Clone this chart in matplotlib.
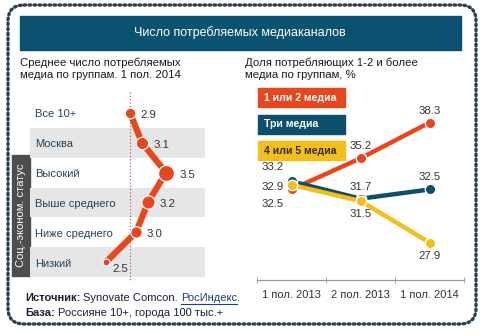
import matplotlib
matplotlib.use("Agg")
import matplotlib.pyplot as plt
from matplotlib.patches import Rectangle, FancyBboxPatch

plt.rcParams['font.family'] = ['Liberation Sans', 'DejaVu Sans']

# --- data ---
TITLE = "Число потребляемых медиаканалов"
left_title = "Среднее число потребляемых\nмедиа по группам. 1 пол. 2014"
groups = ["Все 10+", "Москва", "Высокий", "Выше среднего", "Ниже среднего", "Низкий"]
group_values = [2.9, 3.1, 3.5, 3.2, 3.0, 2.5]
side_label = "Соц.-эконом. статус"

right_title = "Доля потребляющих 1-2 и более\nмедиа по группам, %"
periods = ["1 пол. 2013", "2 пол. 2013", "1 пол. 2014"]
series_names = ["1 или 2 медиа", "Три медиа", "4 или 5 медиа"]
one_two = [32.5, 35.2, 38.3]
three = [33.2, 31.7, 32.5]
four_five = [32.9, 31.5, 27.9]

RED = "#e8461e"
NAVY = "#0b4f6c"
YELLOW = "#f4bf1a"
TXT = "#333333"
CAT = "#23415c"

W, H = 480, 336
fig = plt.figure(figsize=(W / 100, H / 100), dpi=100)
fig.patch.set_facecolor("white")

def fbox(x0, y0, x1, y1):
    # pixel box -> figure fraction
    return [x0 / W, 1 - y1 / H, (x1 - x0) / W, (y1 - y0) / H]

# background layer in pixel coords
bg = fig.add_axes([0, 0, 1, 1])
bg.set_xlim(0, W)
bg.set_ylim(H, 0)
bg.axis("off")

border = FancyBboxPatch((8, 5), 468, 319, boxstyle="round,pad=0,rounding_size=16",
                        fill=False, ec="#2a4252", lw=2.4, ls=(0, (0.5, 1.0)))
border.set_capstyle("round")
bg.add_patch(border)
bg.add_patch(Rectangle((20, 16), 441, 34, color="#0b5270"))
bg.text(240, 33, TITLE, color="white", ha="center", va="center", fontsize=9)

bg.text(20, 69, left_title, color="#1a1a1a", ha="left", va="center", fontsize=8.2, linespacing=1.25)
bg.text(245, 69, right_title, color="#1a1a1a", ha="left", va="center", fontsize=8.2, linespacing=1.25)

bg.add_patch(Rectangle((12, 155), 18, 121, color="#4d4d4d"))
bg.text(21, 215, side_label, color="white", rotation=90, ha="center", va="center", fontsize=8)

# footer
fs = 8
ftc = "#1a1f3a"
r = fig.canvas.get_renderer()
t1 = bg.text(25, 298, "Источник:", fontsize=fs, fontweight="bold", color=ftc, va="center")
w1 = t1.get_window_extent(r).width
t2 = bg.text(25 + w1 + 3, 298, "Synovate Comcon.", fontsize=fs, color=ftc, va="center")
w2 = t2.get_window_extent(r).width
x3 = 25 + w1 + 3 + w2 + 3
t3 = bg.text(x3, 298, "РосИндекс", fontsize=fs, color="#1f3f8f", va="center")
w3 = t3.get_window_extent(r).width
bg.plot([x3, x3 + w3], [304, 304], color="#1f3f8f", lw=0.8)
bg.text(x3 + w3, 298, ".", fontsize=fs, color=ftc, va="center")
t4 = bg.text(25, 313, "База:", fontsize=fs, fontweight="bold", color=ftc, va="center")
w4 = t4.get_window_extent(r).width
bg.text(25 + w4 + 3, 313, "Россияне 10+, города 100 тыс.+", fontsize=fs, color=ftc, va="center")

# --- left panel ---
axl = fig.add_axes(fbox(30, 98, 205, 277))
axl.patch.set_alpha(0)
axl.set_xlim(1.233, 4.15)
axl.set_ylim(len(groups) - 0.5, -0.5)
axl.axis("off")
rows = list(range(len(groups)))
for i in rows:
    if i % 2 == 1:
        axl.axhspan(i - 0.5, i + 0.5, color="#e6e6e6", lw=0, zorder=0)
    axl.text(1.32, i + 0.05, groups[i], color=CAT, ha="left", va="center", fontsize=8)
axl.plot([group_values[0]] * 2, [-0.7, 5.6], color="#b5523b", lw=0.8, ls=(0, (1, 2)),
         clip_on=False, zorder=1)
axl.plot(group_values, rows, color=RED, lw=4.5, solid_capstyle="round", zorder=2)
radii = [3.5 + (v - 2.5) * 4.5 for v in group_values]
for v, y, rad in zip(group_values, rows, radii):
    d_pt = 2 * rad * 0.72
    axl.plot(v, y, "o", ms=d_pt, mfc=RED, mec="white", mew=0.9, zorder=3)
    dx = (rad + 13) * 0.72
    dy = -2 * 0.72
    if y == rows[-1]:
        dx, dy = 10, -5
    axl.annotate(f"{v:.1f}", (v, y), xytext=(dx, dy), textcoords="offset points",
                 ha="center", va="center", fontsize=8.2, color=TXT)

# --- right panel ---
axr = fig.add_axes(fbox(257, 88, 464, 280))
axr.patch.set_alpha(0)
axr.set_xlim(-0.5, 2.5)
axr.set_ylim(24.65, 41.3)
for s in ["top", "left", "right"]:
    axr.spines[s].set_visible(False)
axr.spines["bottom"].set_color("#999999")
axr.spines["bottom"].set_linewidth(0.9)
axr.set_yticks([])
x = list(range(len(periods)))
axr.set_xticks(x)
axr.set_xticklabels(periods, fontsize=8, color=TXT)
axr.tick_params(axis="x", which="major", length=0, pad=7)
axr.set_xticks([-0.5, 0.5, 1.5, 2.5], minor=True)
axr.tick_params(axis="x", which="minor", length=4, direction="inout", color="#999999")

# legend boxes (drawn on top layer)
top = fig.add_axes([0, 0, 1, 1])
top.set_xlim(0, W)
top.set_ylim(H, 0)
top.axis("off")
leg_colors = [RED, NAVY, YELLOW]
leg_text = ["white", "white", "#3a2a00"]
for i, (name, c, tc) in enumerate(zip(series_names, leg_colors, leg_text)):
    y0 = 88 + i * 26.5
    top.add_patch(Rectangle((258, y0), 87, 19, color=c))
    top.text(264, y0 + 9.8, name, color=tc, ha="left", va="center", fontsize=7.6, fontweight="bold")

# label placement per point: offsets in pixels
place = {
    "bl": (-19, 15, "center"), "al": (-19, -14, "center"), "l": (-19, 2, "center"),
    "a": (0, -12, "center"), "b": (0, 13, "center"),
}
series = [(one_two, RED, ["bl", "a", "a"]),
          (three, NAVY, ["al", "a", "a"]),
          (four_five, YELLOW, ["l", "b", "b"])]
for z, (vals, c, pl) in enumerate(series):
    axr.plot(x, vals, color=c, lw=3.2, solid_capstyle="round", zorder=2 + z)
    axr.plot(x, vals, "o", ms=7.5, mfc=c, mec="white", mew=1, zorder=2 + z, clip_on=False)
    for xi, v, p in zip(x, vals, pl):
        dx, dy, ha = place[p]
        axr.annotate(f"{v:.1f}", (xi, v), xytext=(dx * 0.72, -dy * 0.72),
                     textcoords="offset points", ha=ha, va="center",
                     fontsize=8.2, color=TXT, zorder=6)

fig.savefig("out.png", dpi=100)
